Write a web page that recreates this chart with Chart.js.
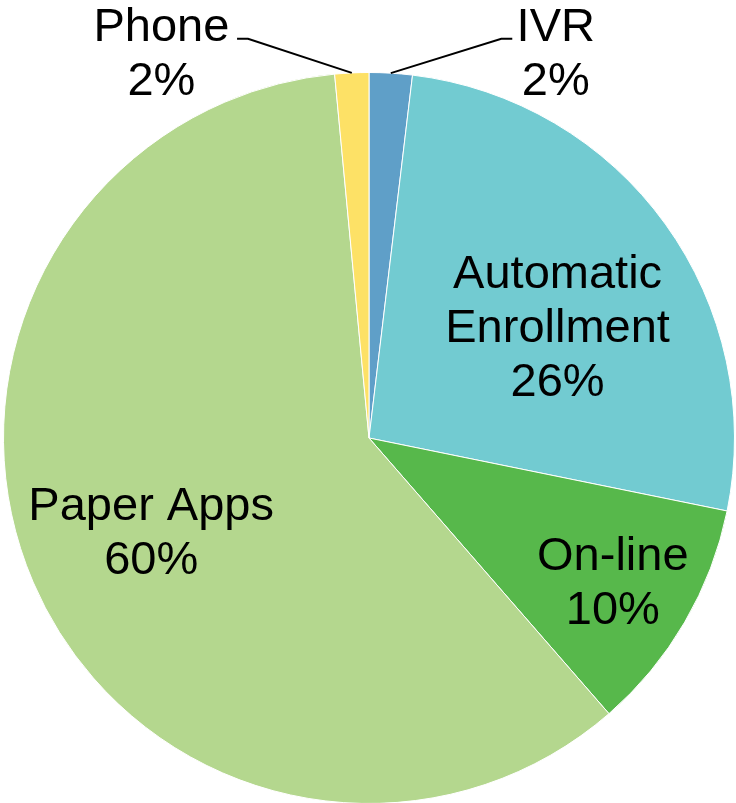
<!DOCTYPE html>
<html>
<head>
<meta charset="utf-8">
<script src="https://cdn.jsdelivr.net/npm/chart.js@4"></script>
<style>
  html, body { margin: 0; padding: 0; background: #fff; overflow: hidden; }
  #wrap { position: relative; width: 736px; height: 806px; }
</style>
</head>
<body>
<div id="wrap"><canvas id="c"></canvas></div>
<script>
const categories = ["IVR", "Automatic Enrollment", "On-line", "Paper Apps", "Phone"];
const labelLines = [["IVR"], ["Automatic", "Enrollment"], ["On-line"], ["Paper Apps"], ["Phone"]];
const shares = [1.9, 26.3, 10.4, 59.9, 1.5];
const colors = ["#5f9fc8", "#72cbd1", "#57b84b", "#b4d78e", "#fde166"];

// label layout as fractions of the radius, relative to the pie centre
const labelLayout = [
  { x: 0.511, y: -1.087, leader: true, elbowX: 0.362, endX: 0.392 },
  { x: 0.516, y: -0.41 },
  { x: 0.667, y: 0.36 },
  { x: -0.596, y: 0.224 },
  { x: -0.568, y: -1.087, leader: true, elbowX: -0.331, endX: -0.361 }
];

const labelPlugin = {
  id: 'pieLabels',
  afterDatasetsDraw(chart) {
    const ctx = chart.ctx;
    const meta = chart.getDatasetMeta(0);
    const total = shares.reduce((a, b) => a + b, 0);
    ctx.save();
    ctx.font = '47px "Liberation Sans", Arial, sans-serif';
    ctx.fillStyle = '#000';
    ctx.textAlign = 'center';
    ctx.textBaseline = 'alphabetic';
    const lh = 54;
    meta.data.forEach((arc, i) => {
      const p = arc.getProps(['x', 'y', 'outerRadius', 'startAngle', 'endAngle'], true);
      const R = p.outerRadius;
      const L = labelLayout[i];
      const lines = labelLines[i].concat([Math.round(shares[i] / total * 100) + '%']);
      const bx = p.x + L.x * R;
      const by = p.y + L.y * R;
      lines.forEach((t, k) => ctx.fillText(t, bx, by + k * lh));
      if (L.leader) {
        const mid = (p.startAngle + p.endAngle) / 2;
        const ax = p.x + Math.cos(mid) * R;
        const ay = p.y + Math.sin(mid) * R;
        const ly = by - 2;
        ctx.strokeStyle = '#000';
        ctx.lineWidth = 2;
        ctx.beginPath();
        ctx.moveTo(ax, ay);
        ctx.lineTo(p.x + L.elbowX * R, ly);
        ctx.lineTo(p.x + L.endX * R, ly);
        ctx.stroke();
      }
    });
    ctx.restore();
  }
};

new Chart(document.getElementById('c'), {
  type: 'pie',
  data: {
    labels: categories,
    datasets: [{
      data: shares,
      backgroundColor: colors,
      borderColor: '#ffffff',
      borderWidth: 1
    }]
  },
  options: {
    responsive: true,
    maintainAspectRatio: false,
    animation: false,
    layout: { padding: { top: 72, left: 3, right: 1, bottom: 2 } },
    plugins: { legend: { display: false }, tooltip: { enabled: false } }
  },
  plugins: [labelPlugin]
});
</script>
</body>
</html>
